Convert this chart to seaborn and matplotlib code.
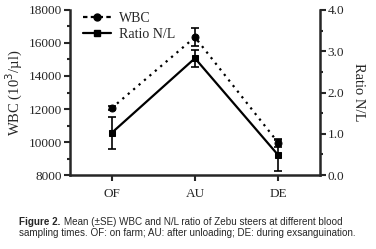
import numpy as np
import pandas as pd
import matplotlib
matplotlib.use("Agg")
import matplotlib.pyplot as plt
from matplotlib.ticker import MultipleLocator
from matplotlib.lines import Line2D
import seaborn as sns

# values
times = ["OF", "AU", "DE"]
wbc = [12050, 16350, 9950]
wbc_se = [120, 550, 250]
ratio = [1.02, 2.83, 0.48]
ratio_se = [0.38, 0.21, 0.37]

sns.set_style("ticks")
plt.rcParams['font.family'] = ['Liberation Serif', 'DejaVu Serif']

df = pd.DataFrame({"time": times, "wbc": wbc, "ratio": ratio})
x = np.arange(len(times))

fig = plt.figure(figsize=(3.76, 2.49), dpi=100)
ax = fig.add_axes([0.186, 0.297, 0.665, 0.663])
ax2 = ax.twinx()

# WBC: dotted line with circles
sns.lineplot(data=df, x=x, y="wbc", ax=ax, color="black", linestyle=(0, (1, 2.2)),
             linewidth=1.6, marker="o", markersize=5, markeredgecolor="black")
ax.errorbar(x, wbc, yerr=wbc_se, fmt="none", ecolor="black", elinewidth=1.2, capsize=3, capthick=1.2)

# N/L ratio: solid line with squares
sns.lineplot(data=df, x=x, y="ratio", ax=ax2, color="black", linestyle="-",
             linewidth=1.6, marker="s", markersize=5, markeredgecolor="black")
ax2.errorbar(x, ratio, yerr=ratio_se, fmt="none", ecolor="black", elinewidth=1.2, capsize=3, capthick=1.2)

ax.set_xlim(-0.5, 2.5)
ax.set_ylim(8000, 18000)
ax2.set_ylim(0, 4)
ax.set_xticks(x)
ax.set_xticklabels(times)
ax.yaxis.set_major_locator(MultipleLocator(2000))
ax.yaxis.set_minor_locator(MultipleLocator(1000))
ax2.yaxis.set_major_locator(MultipleLocator(1.0))
ax2.yaxis.set_minor_locator(MultipleLocator(0.5))
ax2.set_yticklabels([f"{v:.1f}" for v in ax2.get_yticks()])

ax.set_xlabel("")
ax.set_ylabel("WBC (10$^3$/µl)", fontsize=10.5, labelpad=3)
ax2.set_ylabel("Ratio N/L", fontsize=10.5, rotation=270, labelpad=15)

for a in (ax, ax2):
    for s in a.spines.values():
        s.set_linewidth(1.8)
    a.spines["top"].set_visible(False)
    a.tick_params(axis="both", which="major", labelsize=9.5, width=1.5, length=4, pad=1.5)
    a.tick_params(axis="y", which="minor", width=1.5, length=2.5)
ax.tick_params(axis="x", pad=5)
ax.spines["right"].set_visible(False)
ax2.spines["left"].set_visible(False)
ax2.spines["bottom"].set_visible(False)

handles = [
    Line2D([], [], color="black", linestyle=(0, (2, 1.5)), linewidth=1.6, marker="o", markersize=5),
    Line2D([], [], color="black", linestyle="-", linewidth=1.6, marker="s", markersize=5),
]
ax.legend(handles, ["WBC", "Ratio N/L"], loc="upper left", frameon=False, fontsize=10,
          handlelength=2.0, borderaxespad=0.2, handletextpad=0.6, labelspacing=0.25,
          bbox_to_anchor=(0.02, 1.04))

cap = 7.1
fig.text(0.05, 0.098, "Figure 2.", fontsize=cap, fontweight="bold", family="Liberation Sans")
fig.text(0.05 + 0.121, 0.098, "Mean (±SE) WBC and N/L ratio of Zebu steers at different blood",
         fontsize=cap, family="Liberation Sans")
fig.text(0.05, 0.053, "sampling times. OF: on farm; AU: after unloading; DE: during exsanguination.",
         fontsize=cap, family="Liberation Sans")

fig.savefig("out.png", dpi=100)
